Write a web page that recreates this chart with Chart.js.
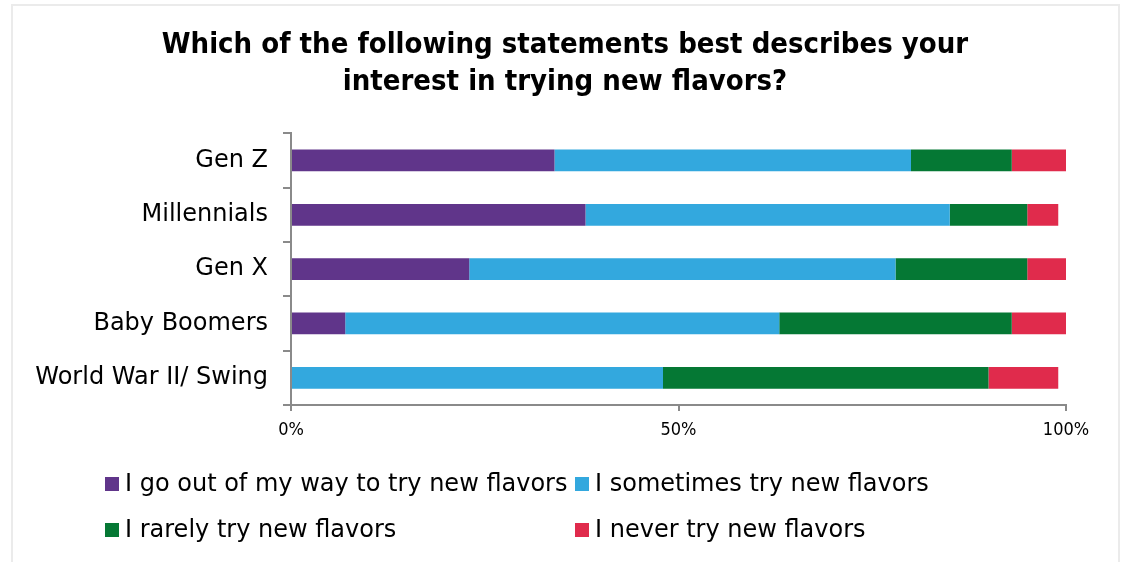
<!DOCTYPE html>
<html>
<head>
<meta charset="utf-8">
<script src="https://cdn.jsdelivr.net/npm/chart.js@4.4.1/dist/chart.umd.min.js"></script>
<style>
    html, body { margin: 0; padding: 0; background: #fff; }
    body { width: 1122px; height: 562px; position: relative; overflow: hidden; }
    #frame {
        position: absolute; left: 11px; top: 4px; width: 1109px; height: 600px;
        border: 2px solid #ebebeb; box-sizing: border-box;
    }
    #wrap { position: absolute; left: 0; top: 0; width: 1122px; height: 562px; }
    #legend {
        position: absolute; left: 105px; top: 469px;
        font-family: "DejaVu Sans", sans-serif;
        font-size: 24px; color: #000;
    }
    #legend .item {
        position: absolute; white-space: nowrap; line-height: 28px; height: 28px;
    }
    #legend .box {
        display: inline-block; width: 14px; height: 14px; margin-right: 6px;
        vertical-align: 0px;
    }
</style>
</head>
<body>
<div id="frame"></div>
<div id="wrap"><canvas id="chart" width="1122" height="562"></canvas></div>
<div id="legend"></div>
<script>
'use strict';

var TITLE_FONT = '"DejaVu Sans Condensed", "DejaVu Sans", sans-serif';
var LABEL_FONT = '"DejaVu Sans", sans-serif';

var titleLines = [
    'Which of the following statements best describes your',
    'interest in trying new flavors?'
];

var generations = ['Gen Z', 'Millennials', 'Gen X', 'Baby Boomers', 'World War II/ Swing'];

var seriesNames = [
    'I go out of my way to try new flavors',
    'I sometimes try new flavors',
    'I rarely try new flavors',
    'I never try new flavors'
];
var seriesColors = ['#60358a', '#33a8de', '#057834', '#e02b4c'];

// percent of respondents per generation
var goOutOfWay = [34, 38, 23, 7, 0];
var sometimes  = [46, 47, 55, 56, 48];
var rarely     = [13, 10, 17, 30, 42];
var never      = [7, 4, 5, 7, 9];

var xTicks = [0, 50, 100];

var seriesValues = [goOutOfWay, sometimes, rarely, never];

var datasets = seriesNames.map(function(name, i) {
    return {
        label: name,
        data: seriesValues[i],
        backgroundColor: seriesColors[i],
        borderWidth: 0,
        categoryPercentage: 0.8,
        barPercentage: 0.5
    };
});

var axisColor = '#8a8a8a';

// the left padding keeps the title centred on the frame; widen the
// y axis box back to the canvas edge so long labels are not clipped
var widenYAxis = {
    id: 'widenYAxis',
    afterLayout: function(chart) {
        chart.scales.y.left = 0;
    }
};

new Chart(document.getElementById('chart').getContext('2d'), {
    type: 'bar',
    data: { labels: generations, datasets: datasets },
    options: {
        indexAxis: 'y',
        responsive: false,
        animation: false,
        events: [],
        layout: { padding: { left: 64, right: 56, top: 0, bottom: 117 } },
        scales: {
            x: {
                stacked: true,
                min: 0,
                max: 100,
                afterBuildTicks: function(scale) {
                    scale.ticks = xTicks.map(function(v) { return { value: v }; });
                },
                afterFit: function(scale) { scale.height = 40; },
                grid: { drawOnChartArea: false, tickLength: 6, color: axisColor, lineWidth: 2 },
                border: { color: axisColor, width: 2 },
                ticks: {
                    padding: 9,
                    color: '#000',
                    font: { family: TITLE_FONT, size: 18 },
                    callback: function(v) { return v + '%'; }
                }
            },
            y: {
                stacked: true,
                afterFit: function(scale) { scale.width = 227; },
                grid: { drawOnChartArea: false, tickLength: 8, color: axisColor, lineWidth: 2, offset: true },
                border: { color: axisColor, width: 2 },
                ticks: {
                    padding: 15,
                    color: '#000',
                    font: { family: LABEL_FONT, size: 24 }
                }
            }
        },
        plugins: {
            legend: { display: false },
            tooltip: { enabled: false },
            title: {
                display: true,
                text: titleLines,
                color: '#000',
                font: { family: TITLE_FONT, size: 29, weight: 'bold', lineHeight: 1.28 },
                padding: { top: 27, bottom: 32 }
            }
        }
    },
    plugins: [widenYAxis]
});

// two-column legend under the plot
var legend = document.getElementById('legend');
var colX = [0, 470];
var rowY = [0, 46];
seriesNames.forEach(function(name, i) {
    var item = document.createElement('div');
    item.className = 'item';
    item.style.left = colX[i % 2] + 'px';
    item.style.top = rowY[Math.floor(i / 2)] + 'px';
    var box = document.createElement('span');
    box.className = 'box';
    box.style.background = seriesColors[i];
    item.appendChild(box);
    item.appendChild(document.createTextNode(name));
    legend.appendChild(item);
});
</script>
</body>
</html>
